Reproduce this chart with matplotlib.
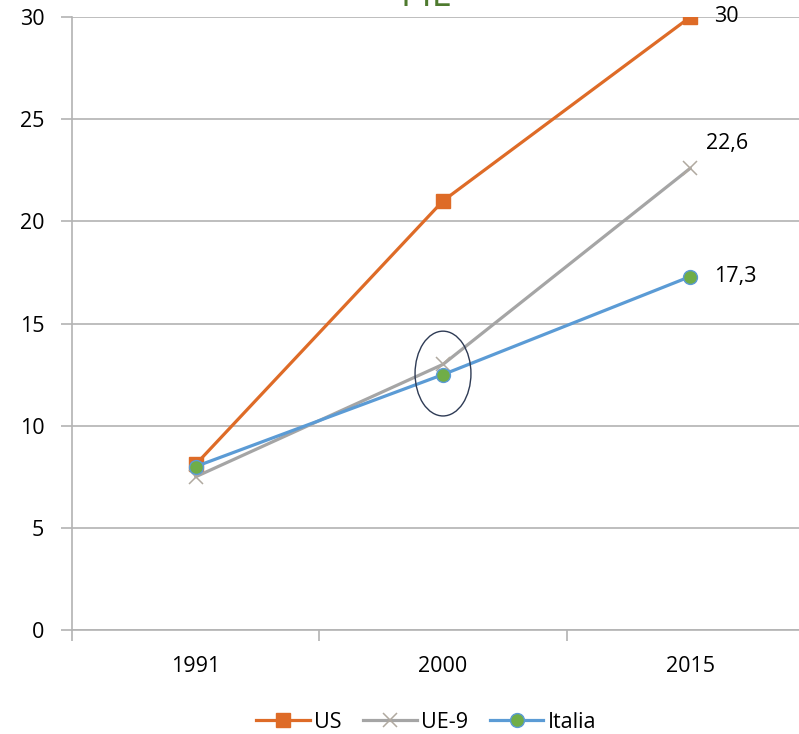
import matplotlib
matplotlib.use("Agg")
import matplotlib.pyplot as plt
from matplotlib.patches import Ellipse
from matplotlib.lines import Line2D

years = ["1991", "2000", "2015"]
us = [8.1, 21.0, 30.0]
ue9 = [7.5, 13.0, 22.6]
italia = [8.0, 12.5, 17.3]
end_labels = ["30", "22,6", "17,3"]
title = "PIL"

plt.rcParams["font.family"] = ["Open Sans", "DejaVu Sans"]

W, H = 799, 734
fig = plt.figure(figsize=(W / 100, H / 100), dpi=100)
ax = fig.add_axes([72 / W, 104 / H, 742 / W, 613 / H])

orange = "#DE6B27"
grey = "#A5A5A5"
blue = "#5B9BD5"
green = "#70AD47"
grid = "#B3B3B3"
fs = 15.5

x = list(range(len(years)))
ax.plot(x, us, color=orange, lw=2.3, marker="s", ms=9.5, mfc=orange, mec=orange,
        solid_capstyle="round", zorder=3)
ax.plot(x, ue9, color=grey, lw=2.3, marker="x", ms=10, mew=1.1, mec="#B0A9A0",
        solid_capstyle="round", zorder=3)
ax.plot(x, italia, color=blue, lw=2.3, marker="o", ms=10, mfc=green, mec=blue,
        mew=1.0, solid_capstyle="round", zorder=4)

# end-of-line value labels
ax.annotate(end_labels[0], (2, us[2]), xytext=(17, 0), textcoords="offset points",
            fontsize=fs, va="center", ha="left", annotation_clip=False)
ax.annotate(end_labels[1], (2, ue9[2]), xytext=(11, 18), textcoords="offset points",
            fontsize=fs, va="center", ha="left", annotation_clip=False)
ax.annotate(end_labels[2], (2, italia[2]), xytext=(17, 0), textcoords="offset points",
            fontsize=fs, va="center", ha="left", annotation_clip=False)

# highlight around the 2000 values
ax.add_patch(Ellipse((1, 12.55), width=0.226, height=4.15, fill=False,
                     ec="#2E3B55", lw=1.0, zorder=5))

ax.set_xlim(-0.5, 2.5)
ax.set_ylim(0, 30)
ax.set_yticks(range(0, 31, 5))
ax.set_xticks(x)
ax.set_xticklabels(years)
ax.set_xticks([-0.5, 0.5, 1.5, 2.5], minor=True)
ax.tick_params(axis="x", which="major", length=0, pad=19, labelsize=fs)
ax.tick_params(axis="x", which="minor", length=8, width=1.2, color=grid, direction="out")
ax.tick_params(axis="y", length=8, width=1.2, color=grid, direction="out", pad=12,
               labelsize=fs)
ax.yaxis.grid(True, color=grid, lw=1.2)
ax.set_axisbelow(True)
for s in ["top", "right"]:
    ax.spines[s].set_visible(False)
for s in ["left", "bottom"]:
    ax.spines[s].set_color(grid)
    ax.spines[s].set_linewidth(1.2)

fig.text(426 / W, 1 - 6 / H, title, color="#4E7A2E", fontsize=26, ha="center",
         va="baseline")

handles = [
    Line2D([], [], color=orange, lw=2.3, marker="s", ms=9.5, mfc=orange, mec=orange),
    Line2D([], [], color=grey, lw=2.3, marker="x", ms=10, mew=1.1, mec="#B0A9A0"),
    Line2D([], [], color=blue, lw=2.3, marker="o", ms=10, mfc=green, mec=blue),
]
fig.legend(handles, ["US", "UE-9", "Italia"], loc="center", bbox_to_anchor=(426 / W, 12 / H),
           ncol=3, frameon=False, fontsize=fs, handlelength=2.5, handletextpad=0.2,
           columnspacing=1.0, borderpad=0)

fig.savefig("out.png", dpi=100)
